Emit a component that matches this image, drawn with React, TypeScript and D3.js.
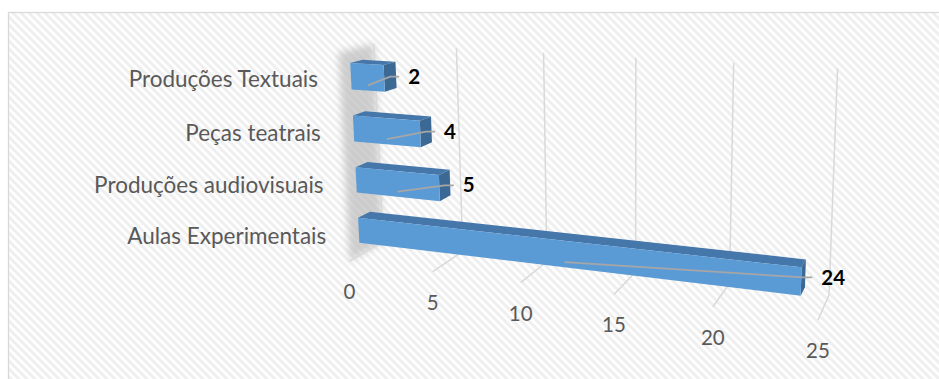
import React from 'react';
import * as d3 from 'd3';

// ---- data ----
const categories = ['Aulas Experimentais', 'Produções audiovisuais', 'Peças teatrais', 'Produções Textuais'];
const values = [24, 5, 4, 2];
const valueTicks = [0, 5, 10, 15, 20, 25];

// ---- layout: 3D view calibration, world (value 0..1, height 0..1, depth 0..1) -> page px ----
const viewAnchors: number[][] = [
  [0, 1, 0, 373, 44],
  [0.4, 1, 0, 545, 53],
  [1, 1, 0, 837, 68],
  [0, 0, 0, 383, 242],
  [1, 0, 0, 829, 295],
  [0, 0, 1, 350, 261],
  [0.4, 0, 1, 520, 282],
  [0.8, 0, 1, 713, 307],
  [1, 0, 1, 818, 321],
];

function fitProjection(pts: number[][]): number[] {
  const n = 11;
  const M: number[][] = Array.from({ length: n }, () => new Array(n + 1).fill(0));
  const add = (row: number[], val: number) => {
    for (let i = 0; i < n; i++) {
      for (let j = 0; j < n; j++) M[i][j] += row[i] * row[j];
      M[i][n] += row[i] * val;
    }
  };
  for (const [X, Y, Z, u, v] of pts) {
    add([X, Y, Z, 1, 0, 0, 0, 0, -u * X, -u * Y, -u * Z], u);
    add([0, 0, 0, 0, X, Y, Z, 1, -v * X, -v * Y, -v * Z], v);
  }
  for (let c = 0; c < n; c++) {
    let piv = c;
    for (let r = c + 1; r < n; r++) if (Math.abs(M[r][c]) > Math.abs(M[piv][c])) piv = r;
    [M[c], M[piv]] = [M[piv], M[c]];
    for (let r = 0; r < n; r++) {
      if (r === c) continue;
      const f = M[r][c] / M[c][c];
      for (let k = c; k <= n; k++) M[r][k] -= f * M[c][k];
    }
  }
  return M.map((row, i) => row[n] / row[i]);
}

const P = fitProjection(viewAnchors);
const proj = (X: number, Y: number, Z: number): [number, number] => {
  const w = P[8] * X + P[9] * Y + P[10] * Z + 1;
  return [(P[0] * X + P[1] * Y + P[2] * Z + P[3]) / w, (P[4] * X + P[5] * Y + P[6] * Z + P[7]) / w];
};

const FONT = 'Lato, "Open Sans", sans-serif';
const BAR_Z0 = 0.35;
const BAR_Z1 = 0.7;

export default function App() {
  const x = d3.scaleLinear().domain([0, 25]).range([0, 1]);
  const y = d3.scaleBand<string>().domain(categories).range([0, 1]).paddingInner(0.5).paddingOuter(0.25);
  const line = d3.line();
  const poly = (pts: [number, number][]) => line(pts) + 'Z';

  const sideWall = poly([proj(0, 0, 0), proj(0, 1, 0), proj(0, 1, 1), proj(0, 0, 1)]);

  return (
    <svg width={939} height={379} style={{ position: 'absolute', left: 0, top: 0, display: 'block' }}>
      <defs>
        <pattern id="diag" width={8} height={8} patternUnits="userSpaceOnUse">
          <rect width={8} height={8} fill="#ffffff" />
          <path d="M-2,-2 L10,10 M-2,6 L2,10 M6,-2 L10,2" stroke="#efefef" strokeWidth={3} />
        </pattern>
        <filter id="soft" x="-50%" y="-20%" width="200%" height="140%">
          <feGaussianBlur stdDeviation={3.5} />
        </filter>
      </defs>
      <rect x={8.5} y={12.5} width={960} height={400} fill="url(#diag)" stroke="#d9d9d9" strokeWidth={1.25} />

      <path d={sideWall} fill="#bdbdbd" opacity={0.7} filter="url(#soft)" />

      {x.ticks(5).map((t) => (
        <path
          key={'g' + t}
          d={line([proj(x(t), 1, 0), proj(x(t), 0, 0), proj(x(t), 0, 1)]) || ''}
          fill="none"
          stroke="#d9d9d9"
          strokeWidth={1.5}
        />
      ))}

      {valueTicks.map((t) => {
        const [px, py] = proj(x(t), 0, 1);
        return (
          <text key={'t' + t} x={px} y={py + 31 + 7} textAnchor="middle" fontFamily={FONT} fontSize={20.5} fill="#595959">
            {t}
          </text>
        );
      })}

      {categories.map((c, i) => {
        const v = values[i];
        const X0 = x(0), X1 = x(v);
        const Y0 = y(c)!, Y1 = Y0 + y.bandwidth();
        const Z0 = BAR_Z0, Z1 = BAR_Z1;
        const top = poly([proj(X0, Y1, Z0), proj(X1, Y1, Z0), proj(X1, Y1, Z1), proj(X0, Y1, Z1)]);
        const end = poly([proj(X1, Y0, Z0), proj(X1, Y1, Z0), proj(X1, Y1, Z1), proj(X1, Y0, Z1)]);
        const front = poly([proj(X0, Y0, Z1), proj(X1, Y0, Z1), proj(X1, Y1, Z1), proj(X0, Y1, Z1)]);
        const Yc = (Y0 + Y1) / 2;
        const [ex, ey] = proj(X1, Yc, (Z0 + Z1) / 2);
        const lx = ex + 18;
        const start = proj(x(v / 2), Y0 + 0.2 * y.bandwidth(), Z1);
        const [cx, cy] = proj(0, Yc, 1);
        return (
          <g key={c}>
            <path d={top} fill="#4677aa" />
            <path d={end} fill="#3c6994" />
            <path d={front} fill="#5b9bd5" />
            <path
              d={line([start, [lx - 18, ey], [lx - 9, ey]]) || ''}
              fill="none"
              stroke="#a6a6a6"
              strokeWidth={1.75}
            />
            <text x={lx} y={ey + 7.2} fontFamily={FONT} fontSize={20.5} fontWeight="bold" fill="#000">
              {v}
            </text>
            <text x={cx - 22} y={cy + 8} textAnchor="end" fontFamily={FONT} fontSize={22.5} fill="#595959">
              {c}
            </text>
          </g>
        );
      })}
    </svg>
  );
}
